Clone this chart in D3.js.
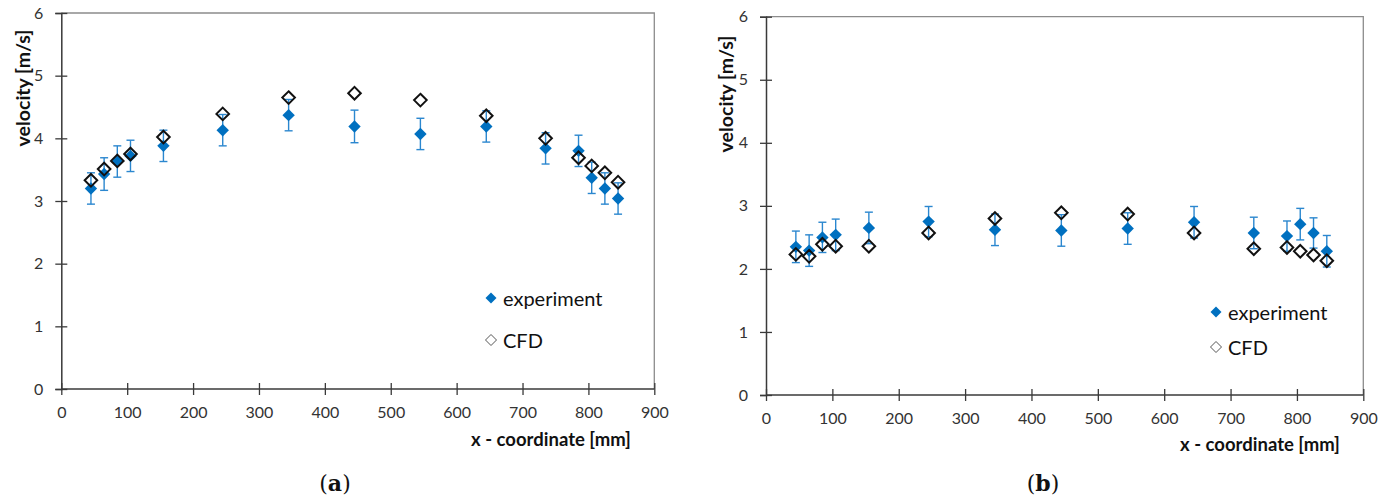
<!DOCTYPE html>
<html>
<head>
<meta charset="utf-8">
<script src="https://cdn.jsdelivr.net/npm/d3@7"></script>
<style>
  html, body { margin: 0; padding: 0; background: #fff; }
  svg { display: block; }
  .tick text { font-family: Lato, "Open Sans", sans-serif; }
</style>
</head>
<body>
<svg id="chart" width="1392" height="499"></svg>
<script>
// Measurement positions along the channel [mm]
const xPositions = [45, 65, 85, 105, 155, 245, 345, 445, 545, 645, 735, 785, 805, 825, 845];

// Panel (a): velocity [m/s]
const expA   = [3.20, 3.43, 3.63, 3.72, 3.88, 4.13, 4.37, 4.19, 4.07, 4.19, 3.84, 3.80, 3.37, 3.20, 3.04];
const errA   = [0.25, 0.26, 0.25, 0.25, 0.25, 0.25, 0.25, 0.26, 0.25, 0.25, 0.25, 0.25, 0.25, 0.25, 0.25];
const cfdA   = [3.33, 3.51, 3.64, 3.75, 4.02, 4.39, 4.65, 4.72, 4.61, 4.36, 4.00, 3.69, 3.56, 3.45, 3.30];

// Panel (b): velocity [m/s]
const expB   = [2.35, 2.29, 2.50, 2.54, 2.65, 2.75, 2.62, 2.61, 2.64, 2.74, 2.57, 2.52, 2.71, 2.57, 2.28];
const errB   = [0.25, 0.25, 0.24, 0.25, 0.25, 0.24, 0.25, 0.25, 0.25, 0.25, 0.25, 0.24, 0.25, 0.24, 0.25];
const cfdB   = [2.23, 2.20, 2.39, 2.36, 2.36, 2.57, 2.80, 2.89, 2.87, 2.57, 2.32, 2.34, 2.28, 2.22, 2.13];

const xTicks = [0, 100, 200, 300, 400, 500, 600, 700, 800, 900];
const yTicks = [0, 1, 2, 3, 4, 5, 6];
const seriesNames = ["experiment", "CFD"];

const svg = d3.select("#chart");
const blue = "#0070C0";
const errBlue = "#2b87cf";
const axisCol = "#3a3a3a";
const frameCol = "#8c8c8c";

function diamond(r) {
  return `M0,${-r}L${r},0L0,${r}L${-r},0Z`;
}

function panel(cfg) {
  const x = d3.scaleLinear().domain([0, 900]).range([cfg.x0, cfg.x1]);
  const y = d3.scaleLinear().domain([0, 6]).range([cfg.y0, cfg.y1]);
  const g = svg.append("g");

  // frame: top and right edges
  g.append("path")
    .attr("d", `M${cfg.x0},${cfg.y1}H${cfg.x1}V${cfg.y0}`)
    .attr("fill", "none").attr("stroke", frameCol).attr("stroke-width", 1.3);

  // x axis with crossing ticks
  const xa = g.append("g").attr("transform", `translate(0,${cfg.y0})`)
    .call(d3.axisBottom(x).tickValues(xTicks).tickSize(6).tickPadding(12).tickFormat(d3.format("d")));
  xa.select(".domain").attr("stroke", axisCol).attr("stroke-width", 1.5);
  xa.selectAll(".tick line").attr("y1", -6).attr("stroke", axisCol).attr("stroke-width", 1.3);
  xa.selectAll(".tick text").attr("font-size", 16).attr("fill", "#333");

  // y axis with crossing ticks
  const ya = g.append("g").attr("transform", `translate(${cfg.x0},0)`)
    .call(d3.axisLeft(y).tickValues(yTicks).tickSize(6).tickPadding(12).tickFormat(d3.format("d")));
  ya.select(".domain").attr("stroke", axisCol).attr("stroke-width", 1.5);
  ya.selectAll(".tick line").attr("x1", 6).attr("stroke", axisCol).attr("stroke-width", 1.3);
  ya.selectAll(".tick text").attr("font-size", 16).attr("fill", "#333");
  xa.selectAll(".domain").attr("d", `M${cfg.x0},0H${cfg.x1}`);

  // axis titles
  g.append("text")
    .attr("transform", `translate(${cfg.yTitleX},${cfg.yTitleY}) rotate(-90)`)
    .attr("text-anchor", "middle").attr("dominant-baseline", "central")
    .attr("font-family", "Lato, sans-serif").attr("font-weight", "bold").attr("font-size", 19.5)
    .attr("fill", "#111").text("velocity [m/s]");
  g.append("text")
    .attr("x", cfg.xTitleX).attr("y", cfg.xTitleY)
    .attr("text-anchor", "middle").attr("dominant-baseline", "central")
    .attr("font-family", "Lato, sans-serif").attr("font-weight", "bold").attr("font-size", 18.5)
    .attr("fill", "#111").text("x - coordinate [mm]");

  const pts = xPositions.map((xv, i) => ({ x: xv, e: cfg.exp[i], err: cfg.err[i], c: cfg.cfd[i] }));

  // error bars
  const eb = g.append("g").attr("stroke", errBlue).attr("stroke-width", 1.4);
  eb.selectAll("line.v").data(pts).join("line")
    .attr("x1", d => x(d.x)).attr("x2", d => x(d.x))
    .attr("y1", d => y(d.e + d.err)).attr("y2", d => y(d.e - d.err));
  eb.selectAll("line.t").data(pts).join("line").classed("t", true)
    .attr("x1", d => x(d.x) - 4).attr("x2", d => x(d.x) + 4)
    .attr("y1", d => y(d.e + d.err)).attr("y2", d => y(d.e + d.err));
  eb.selectAll("line.b").data(pts).join("line").classed("b", true)
    .attr("x1", d => x(d.x) - 4).attr("x2", d => x(d.x) + 4)
    .attr("y1", d => y(d.e - d.err)).attr("y2", d => y(d.e - d.err));

  // experiment markers
  g.append("g").selectAll("path").data(pts).join("path")
    .attr("d", diamond(6.2))
    .attr("transform", d => `translate(${x(d.x)},${y(d.e)})`)
    .attr("fill", blue);

  // CFD markers (hollow)
  g.append("g").selectAll("path").data(pts).join("path")
    .attr("d", diamond(6.3))
    .attr("transform", d => `translate(${x(d.x)},${y(d.c)})`)
    .attr("fill", "none").attr("stroke", "#111").attr("stroke-width", 2);

  // legend
  const lg = g.append("g").attr("font-family", "Lato, sans-serif").attr("font-size", 20).attr("fill", "#111");
  seriesNames.forEach((name, i) => {
    const ly = cfg.legY[i];
    const mk = lg.append("path").attr("d", diamond(5.5))
      .attr("transform", `translate(${cfg.legX},${ly})`);
    if (i === 0) mk.attr("fill", blue);
    else mk.attr("fill", "#fff").attr("stroke", "#555").attr("stroke-width", 1);
    lg.append("text").attr("x", cfg.legX + 12).attr("y", ly)
      .attr("dominant-baseline", "central").text(name);
  });

  // panel label
  const lab = g.append("text").attr("x", cfg.labX).attr("y", cfg.labY)
    .attr("text-anchor", "middle").attr("dominant-baseline", "central")
    .attr("font-family", "'DejaVu Serif', 'Liberation Serif', serif").attr("font-size", 22).attr("fill", "#111");
  lab.append("tspan").text("(");
  lab.append("tspan").attr("font-weight", "bold").text(cfg.label);
  lab.append("tspan").text(")");
}

panel({
  x0: 61.3, x1: 654.3, y0: 389, y1: 13,
  exp: expA, err: errA, cfd: cfdA,
  yTitleX: 22, yTitleY: 88, xTitleX: 551, xTitleY: 439,
  legX: 491, legY: [298, 340],
  labX: 335, labY: 483, label: "a"
});

panel({
  x0: 766, x1: 1363.3, y0: 395, y1: 16.7,
  exp: expB, err: errB, cfd: cfdB,
  yTitleX: 725, yTitleY: 94, xTitleX: 1260, xTitleY: 444,
  legX: 1216, legY: [312, 347],
  labX: 1043, labY: 483, label: "b"
});
</script>
</body>
</html>
